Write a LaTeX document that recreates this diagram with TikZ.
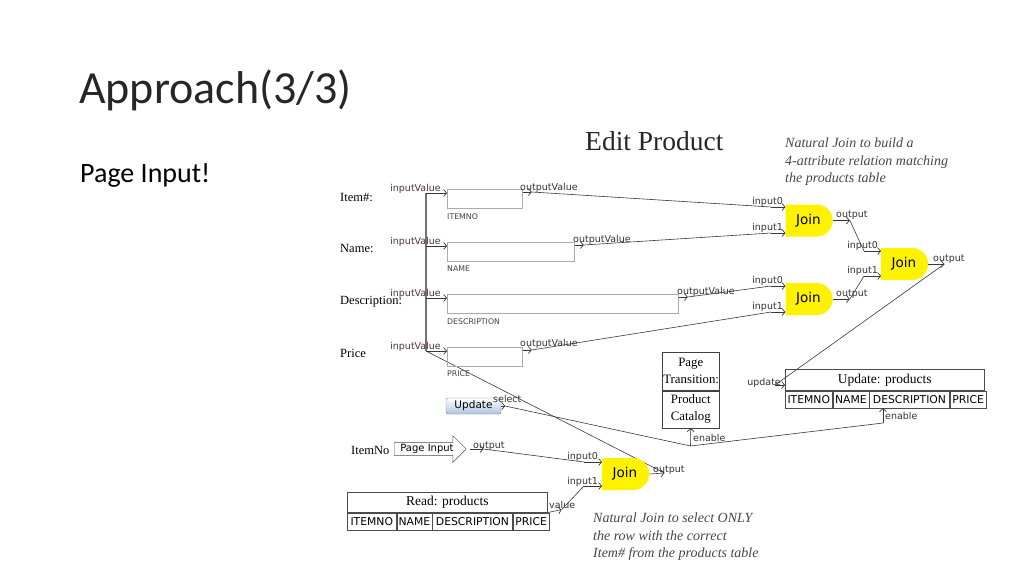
\documentclass[tikz,border=0pt]{standalone}
\usepackage{fontspec}
\setmainfont{Liberation Serif}
\newfontfamily\slidefont{Carlito}
\newfontfamily\uifont{DejaVu Sans}
\usetikzlibrary{arrows.meta,shapes.misc,shapes.arrows}
\pgfdeclarelayer{bg}
\pgfsetlayers{bg,main}
\definecolor{portcol}{RGB}{80,50,70}
\definecolor{boxgray}{RGB}{170,170,170}
\definecolor{joinyel}{RGB}{255,242,0}
\definecolor{linecol}{RGB}{55,55,55}
\definecolor{btnborder}{RGB}{110,130,170}
\definecolor{btnbot}{RGB}{175,195,225}
\definecolor{notecol}{RGB}{70,70,70}
\begin{document}
\begin{tikzpicture}[x=1pt,y=-1pt,
  conn/.style={draw=linecol, line width=0.6pt},
  stub/.style={conn, -{Straight Barb[length=3pt,width=7pt,line width=0.7pt]}},
  bus/.style={draw=black!55, line width=1.4pt},
  plbl/.style={font=\uifont\fontsize{9.5}{10}\selectfont, text=portcol, inner sep=0pt},
  olbl/.style={font=\uifont\fontsize{9.5}{10}\selectfont, text=black!80, inner sep=0pt},
  field/.style={font=\fontsize{12.5}{14}\selectfont, inner sep=0pt, anchor=base west},
  tbox/.style={draw=boxgray, line width=0.8pt, anchor=north west, inner sep=0pt, minimum height=19pt},
  sublbl/.style={font=\uifont\fontsize{7.8}{8}\selectfont, text=black!75, anchor=west, inner sep=0pt},
  joinnode/.style={rounded rectangle, rounded rectangle left arc=none, fill=joinyel, minimum width=47pt, minimum height=32pt, inner sep=0pt, font=\uifont\fontsize{13.5}{14}\selectfont},
  cell/.style={draw=black!70, line width=0.6pt, inner sep=0pt, minimum height=17pt, anchor=north west, font=\uifont\fontsize{10.8}{12}\selectfont},
  head/.style={cell, font=\fontsize{13.5}{15}\selectfont},
  ptbox/.style={draw=black!75, line width=0.6pt, anchor=north west, text width=55pt, inner sep=1pt, align=center, font=\fontsize{12.8}{17}\selectfont},
  note/.style={font=\itshape\fontsize{14}{17.5}\selectfont, align=left, anchor=north west, inner sep=0pt, text=notecol},
  btn/.style={draw=btnborder, rounded corners=2pt, top color=white, bottom color=btnbot, minimum width=55pt, minimum height=16pt, inner sep=0pt, font=\uifont\fontsize{10.5}{11}\selectfont},
  pinarrow/.style={single arrow, draw=black!70, fill=white, single arrow head extend=7pt, single arrow head indent=0pt, inner sep=1.5pt, minimum height=72pt, anchor=west, font=\uifont\fontsize{10}{11}\selectfont}
]
\useasboundingbox (0,0) rectangle (1024,576);

% titles
\node[anchor=base west, inner sep=0pt, font=\slidefont\fontsize{46}{50}\selectfont, text=black!85] (title) at (79,103) {Approach(3/3)};
\node[anchor=base west, inner sep=0pt, font=\slidefont\fontsize{28}{30}\selectfont] (sub) at (80,182) {Page Input!};
\node[anchor=base west, inner sep=0pt, font=\fontsize{27.5}{28}\selectfont, text=black!85] (edit) at (585,150) {Edit Product};
\node[note] (note1) at (785,138) {Natural Join to build a\\4-attribute relation matching\\the products table};
\node[note] (note2) at (593,513) {Natural Join to select ONLY\\the row with the correct\\Item\# from the products table};

% field labels
\node[field] (lItem) at (340,201) {Item\#:};
\node[field] (lName) at (340,252) {Name:};
\node[field] (lDesc) at (340,304) {Description:};
\node[field] (lPrice) at (340,357) {Price};

% text boxes
\node[tbox, minimum width=75pt] (fItem) at (447,189) {};
\node[tbox, minimum width=127pt] (fName) at (447,242) {};
\node[tbox, minimum width=231pt] (fDesc) at (447,294) {};
\node[tbox, minimum width=75pt] (fPrice) at (447,347) {};
\node[sublbl] (sItem) at (447,217) {ITEMNO};
\node[sublbl] (sName) at (447,269) {NAME};
\node[sublbl] (sDesc) at (447,322) {DESCRIPTION};
\node[sublbl] (sPrice) at (447,374) {PRICE};

% bus of input values
\coordinate (b1) at (426,193);
\coordinate (b2) at (426,246);
\coordinate (b3) at (426,298);
\coordinate (b4) at (426,351);
\draw[bus] (b1) -- (b4);
\draw[stub] (b1) -- (fItem.west |- b1);
\draw[stub] (b2) -- (fName.west |- b2);
\draw[stub] (b3) -- (fDesc.west |- b3);
\draw[stub] (b4) -- (fPrice.west |- b4);
\node[plbl, anchor=base east] (iv1) at (441,191) {inputValue};
\node[plbl, anchor=base east] (iv2) at (441,244) {inputValue};
\node[plbl, anchor=base east] (iv3) at (441,296) {inputValue};
\node[plbl, anchor=base east] (iv4) at (441,349) {inputValue};

% output values
\draw[stub] ([yshift=-3pt]fItem.north east) -- ++(9,0) coordinate (oItem);
\draw[stub] ([yshift=-3pt]fName.north east) -- ++(9,0) coordinate (oName);
\draw[stub] ([yshift=-3pt]fDesc.north east) -- ++(9,0) coordinate (oDesc);
\draw[stub] ([yshift=-3pt]fPrice.north east) -- ++(9,0) coordinate (oPrice);
\node[olbl, anchor=base west] (ov1) at (520,190) {outputValue};
\node[olbl, anchor=base west] (ov2) at (573,242) {outputValue};
\node[olbl, anchor=base west] (ov3) at (677,294) {outputValue};
\node[olbl, anchor=base west] (ov4) at (520,346) {outputValue};

% joins
\node[joinnode] (j1) at (808.5,220.5) {Join};
\node[joinnode] (j2) at (808.5,299) {Join};
\node[joinnode] (j3) at (904,264) {Join};
\node[joinnode] (j4) at (625,474) {Join};

% join 1
\coordinate (j1a) at (771,207);
\coordinate (j1b) at (771,233);
\draw[conn] (oItem) -- (j1a);
\draw[conn] (oName) -- (j1b);
\draw[stub] (j1a) -- (j1.west |- j1a);
\draw[stub] (j1b) -- (j1.west |- j1b);
\node[olbl, anchor=base east] (j1la) at (783,204) {input0};
\node[olbl, anchor=base east] (j1lb) at (783,230) {input1};
\draw[stub] (j1.east) -- ++(17,0) coordinate (j1o);
\node[olbl, anchor=base west] (j1lo) at (836,217) {output};

% join 2
\coordinate (j2a) at (771,286);
\coordinate (j2b) at (771,312);
\draw[conn] (oDesc) -- (j2a);
\draw[conn] (oPrice) -- (j2b);
\draw[stub] (j2a) -- (j2.west |- j2a);
\draw[stub] (j2b) -- (j2.west |- j2b);
\node[olbl, anchor=base east] (j2la) at (783,283) {input0};
\node[olbl, anchor=base east] (j2lb) at (783,309) {input1};
\draw[stub] (j2.east) -- ++(17,0) coordinate (j2o);
\node[olbl, anchor=base west] (j2lo) at (836,296) {output};

% join 3
\coordinate (j3a) at (864,251);
\coordinate (j3b) at (864,276);
\draw[conn] (j1o) -- (j3a);
\draw[conn] (j2o) -- (j3b);
\draw[stub] (j3a) -- (j3.west |- j3a);
\draw[stub] (j3b) -- (j3.west |- j3b);
\node[olbl, anchor=base east] (j3la) at (878,248) {input0};
\node[olbl, anchor=base east] (j3lb) at (878,273) {input1};
\draw[stub] (j3.east) -- ++(16,0) coordinate (j3o);
\node[olbl, anchor=base west] (j3lo) at (933,261) {output};

% update table
\node[head, minimum width=199pt, minimum height=21pt] (uHead) at (785,369) {Update: products};
\node[cell, minimum width=47pt] (u1) at (uHead.south west) {ITEMNO};
\node[cell, minimum width=36pt] (u2) at (u1.north east) {NAME};
\node[cell, minimum width=80pt] (u3) at (u2.north east) {DESCRIPTION};
\node[cell, minimum width=36pt] (u4) at (u3.north east) {PRICE};
\coordinate (uIn) at (775,385);
\draw[conn] (j3o) -- (uIn);
\draw[stub] (uIn) -- (uHead.west |- uIn);
\node[olbl, anchor=base east] (ulbl) at (781,385) {update};

% page transition
\node[ptbox, minimum height=38pt] (pt1) at (662,352) {Page\\Transition:};
\node[ptbox, minimum height=37pt] (pt2) at (pt1.south west) {Product\\Catalog};

% update button and enable lines
\node[btn] (upd) at (473.5,406) {Update};
\draw[stub] (upd.east) -- ++(4,0) coordinate (sel);
\node[olbl, anchor=base west] (sellbl) at (493,402) {select};
\coordinate (jn) at (690.5,446);
\coordinate (enC) at (883,423);
\draw[conn] (sel) -- (jn);
\draw[stub] (jn) -- (pt2.south);
\draw[conn] (jn) -- (enC);
\draw[stub] (enC) -- (u3.south -| enC);
\node[olbl, anchor=base west] (en1) at (693,441) {enable};
\node[olbl, anchor=base west] (en2) at (885,419) {enable};

% page input
\node[field] (lItemNo) at (351,454) {ItemNo};
\node[pinarrow] (pin) at (394,449) {Page Input};
\draw[stub] ([xshift=4pt]pin.east) -- ++(13,0) coordinate (oPin);
\node[olbl, anchor=base west] (pinlbl) at (473,448) {output};

% read table
\node[head, minimum width=200pt, minimum height=20pt] (rHead) at (347,492) {Read: products};
\node[cell, minimum width=49pt] (r1) at (rHead.south west) {ITEMNO};
\node[cell, minimum width=35pt] (r2) at (r1.north east) {NAME};
\node[cell, minimum width=80pt] (r3) at (r2.north east) {DESCRIPTION};
\node[cell, minimum width=36pt] (r4) at (r3.north east) {PRICE};
\draw[stub] (rHead.south east) -- ++(14,-3) coordinate (oRead);
\node[olbl, anchor=base west] (vlbl) at (549,508) {value};

% join 4
\coordinate (j4a) at (584,462);
\coordinate (j4b) at (584,486);
\draw[conn] (oPin) -- (j4a);
\draw[conn] (oRead) -- (j4b);
\draw[stub] (j4a) -- (j4.west |- j4a);
\draw[stub] (j4b) -- (j4.west |- j4b);
\node[olbl, anchor=base east] (j4la) at (598,459) {input0};
\node[olbl, anchor=base east] (j4lb) at (598,484) {input1};
\draw[stub] (j4.east) -- ++(15,-1) coordinate (j4o);
\node[olbl, anchor=base west] (j4lo) at (653,472) {output};
\begin{pgfonlayer}{bg}
\draw[conn] (j4o) -- (b4);
\end{pgfonlayer}
\end{tikzpicture}
\end{document}
